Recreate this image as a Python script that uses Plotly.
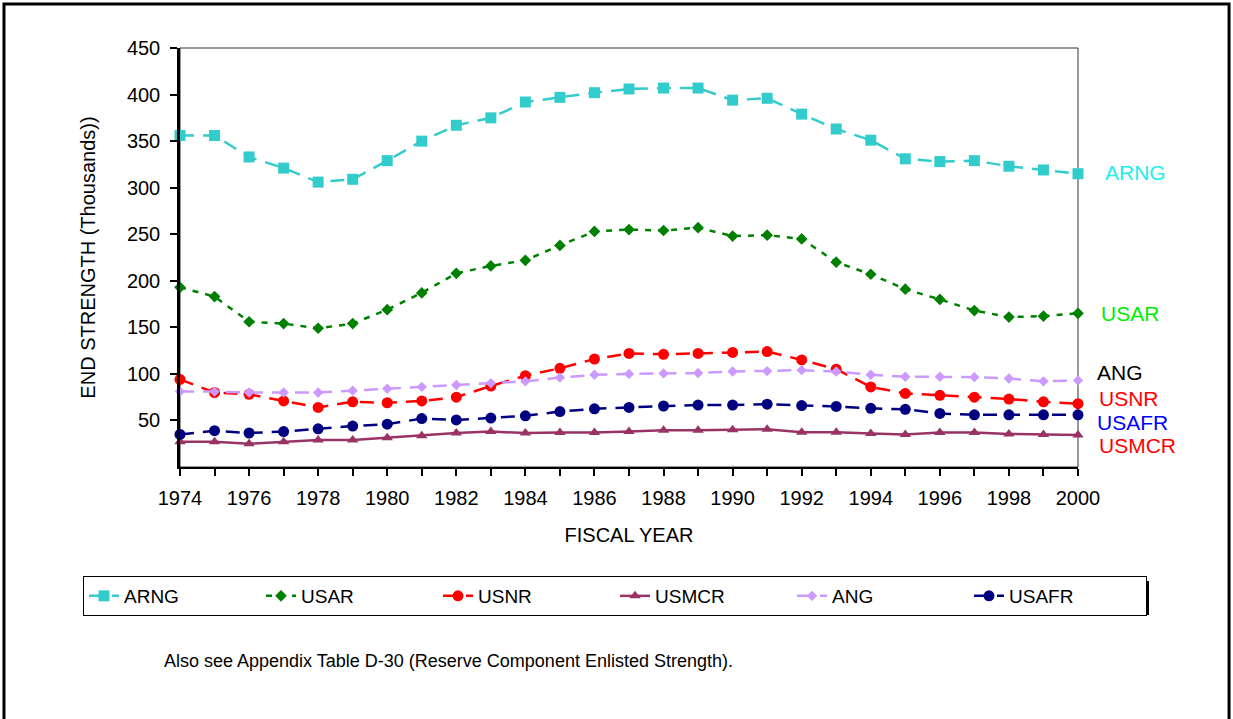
import plotly.graph_objects as go

years = list(range(1974, 2001))

arng = [356, 356, 333, 321, 306, 309, 329, 350, 367, 375, 392, 397, 402,
        406, 407, 407, 394, 396, 379, 363, 351, 331, 328, 329, 323, 319, 315]
usar = [193, 183, 156, 154, 149, 154, 169, 187, 208, 216, 222, 238, 253,
        255, 254, 257, 248, 249, 245, 220, 207, 191, 180, 168, 161, 162, 165]
usnr = [94, 80, 78, 71, 64, 70, 69, 71, 75, 87, 98, 106, 116,
        122, 121, 122, 123, 124, 115, 105, 86, 79, 77, 75, 73, 70, 68]
usmcr = [27, 27, 25, 27, 29, 29, 31.5, 33.5, 36.5, 38, 36.5, 37, 37,
         38, 39.4, 39.4, 40, 40.5, 37.3, 37.3, 36, 35, 37, 37, 35.5, 35, 34.5]
ang = [81, 81, 80, 80, 80, 82, 84, 86, 88, 90, 92, 96, 99,
       100, 100.5, 101, 102.5, 103, 104, 102.5, 99, 97, 97, 96.5, 95, 92, 93]
usafr = [35, 39, 36.5, 38, 41, 44, 46, 52, 50.5, 52.5, 55, 59.5, 62.5,
         64, 65.5, 66.5, 66.5, 67.5, 66, 65, 63, 62, 57.5, 56, 56, 56, 56]

series = [
    ("ARNG", arng, "#33CCCC", "14px,9px", "square", 11),
    ("USAR", usar, "#008000", "6px,7px", "diamond", 9),
    ("USNR", usnr, "#FF0000", "14px,9px", "circle", 11),
    ("USMCR", usmcr, "#993366", "solid", "triangle-up", 10),
    ("ANG", ang, "#CC99FF", "14px,9px", "diamond", 8),
    ("USAFR", usafr, "#000080", "14px,9px", "circle", 11),
]

end_labels = ["ARNG", "USAR", "ANG", "USNR", "USAFR", "USMCR"]
end_label_colors = ["#22EEEE", "#00EE00", "#000000", "#FF0000", "#0000FF", "#FF0000"]
end_label_y = [316.5, 164.5, 102, 74, 48, 22.6]
end_label_x = [1.028, 1.0234, 1.0189, 1.0212, 1.0189, 1.0212]

y_ticks = [50, 100, 150, 200, 250, 300, 350, 400, 450]
x_ticktext = [str(y) if y % 2 == 0 else "" for y in years]

FONT = "Liberation Sans, Arial, sans-serif"

fig = go.Figure()
for name, vals, color, dash, sym, size in series:
    fig.add_trace(go.Scatter(
        x=years, y=vals, name=name, mode="lines+markers",
        line=dict(color=color, width=2.5, dash=dash),
        marker=dict(symbol=sym, size=size, color=color),
        cliponaxis=False,
    ))

for txt, col, yv, xv in zip(end_labels, end_label_colors, end_label_y, end_label_x):
    fig.add_annotation(x=xv, xref="paper", y=yv, yref="y", text=txt,
                       showarrow=False, xanchor="left", yanchor="middle",
                       font=dict(family=FONT, size=21, color=col))

fig.add_annotation(x=-0.02, xref="paper", y=-0.463, yref="paper",
                   text="Also see Appendix Table D-30 (Reserve Component Enlisted Strength).",
                   showarrow=False, xanchor="left", yanchor="middle",
                   font=dict(family=FONT, size=18, color="black"))

# outer frame
fig.add_shape(type="rect", xref="paper", yref="paper",
              x0=-0.196, x1=1.1682, y0=-0.62, y1=1.105,
              line=dict(color="black", width=3), layer="below")
# plot area border
fig.add_shape(type="rect", xref="paper", yref="paper",
              x0=0, x1=1, y0=0, y1=1,
              line=dict(color="#333333", width=1), layer="below")
# legend shadow
fig.add_shape(type="rect", xref="paper", yref="paper",
              x0=(87 - 180) / 898, x1=(1149 - 180) / 898,
              y0=(467 - 615) / 419, y1=(467 - 581) / 419,
              line=dict(width=0), fillcolor="black", layer="below")

fig.update_layout(
    width=1233, height=719,
    margin=dict(l=180, r=155, t=48, b=252),
    paper_bgcolor="white", plot_bgcolor="white",
    font=dict(family=FONT, size=18, color="black"),
    showlegend=True,
    legend=dict(orientation="h", x=(83 - 180) / 898, xanchor="left",
                y=(467 - 576) / 419, yanchor="top",
                bgcolor="white", bordercolor="black", borderwidth=1,
                font=dict(family=FONT, size=19, color="black"),
                entrywidth=132, traceorder="normal"),
    xaxis=dict(range=[1974, 2000], tickmode="array", tickvals=years,
               ticktext=x_ticktext, ticks="outside", ticklen=7, tickwidth=2,
               tickcolor="black", showline=True, linecolor="black", linewidth=2,
               showgrid=False, zeroline=False, ticklabelstandoff=5,
               tickfont=dict(family=FONT, size=20),
               title=dict(text="FISCAL YEAR", standoff=20,
                          font=dict(family=FONT, size=20))),
    yaxis=dict(range=[0, 450], tickmode="array", tickvals=y_ticks,
               ticks="outside", ticklen=7, tickwidth=2, tickcolor="black",
               showline=True, linecolor="black", linewidth=2.5,
               showgrid=False, zeroline=False, ticklabelstandoff=6,
               tickfont=dict(family=FONT, size=20),
               title=dict(text="END STRENGTH (Thousands))", standoff=26,
                          font=dict(family=FONT, size=20))),
)

fig.write_html("out.html", config={"displayModeBar": False},
               post_script="document.body.style.margin='0';")
